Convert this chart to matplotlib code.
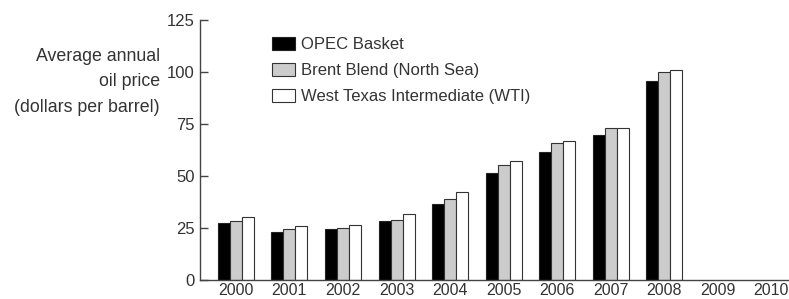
import numpy as np
import matplotlib.pyplot as plt

# Data (dollars per barrel)
years = ['2000', '2001', '2002', '2003', '2004', '2005', '2006', '2007', '2008', '2009', '2010']
opec = [27.6, 23.1, 24.4, 28.2, 36.5, 51.3, 61.7, 69.7, 95.8]
brent = [28.6, 24.4, 25.2, 29.0, 38.8, 55.3, 66.0, 72.9, 100.1]
wti = [30.4, 26.0, 26.4, 31.6, 42.2, 57.2, 67.0, 73.2, 101.0]
series_names = ['OPEC Basket', 'Brent Blend (North Sea)', 'West Texas Intermediate (WTI)']

plt.rcParams['font.family'] = ['Liberation Sans', 'DejaVu Sans']
txt = '#333333'

fig = plt.figure(figsize=(7.89, 2.99), dpi=100)
ax = fig.add_axes([0.2535, 0.0635, 0.7465, 0.8695])

w = 0.224
x = np.arange(len(opec))
ax.bar(x - w, opec, w, color='black', edgecolor='#222222', linewidth=0.8, label=series_names[0])
ax.bar(x, brent, w, color='#cccccc', edgecolor='#333333', linewidth=0.8, label=series_names[1])
ax.bar(x + w, wti, w, color='white', edgecolor='#333333', linewidth=0.8, label=series_names[2])

ax.set_xlim(-0.67, 10.33)
ax.set_ylim(0, 125)
ax.set_yticks([0, 25, 50, 75, 100, 125])
ax.set_xticks(np.arange(len(years)))
ax.set_xticklabels(years)
ax.tick_params(axis='y', direction='in', length=6, width=1, color='#444444',
               labelsize=12, labelcolor=txt, pad=4)
ax.tick_params(axis='x', length=0, labelsize=11.5, labelcolor=txt, pad=2.5)

for s in ['top', 'right']:
    ax.spines[s].set_visible(False)
for s in ['left', 'bottom']:
    ax.spines[s].set_color('#444444')
    ax.spines[s].set_linewidth(1.0)

fig.text(160 / 789, 1 - 82 / 299, 'Average annual\noil price\n(dollars per barrel)',
         ha='right', va='center', fontsize=12.8, color=txt, linespacing=1.68)

ax.legend(loc='upper left', bbox_to_anchor=(272 / 789, 1 - 37 / 299), bbox_transform=fig.transFigure,
          frameon=False, fontsize=12, borderpad=0, borderaxespad=0,
          handlelength=1.38, handleheight=0.78, labelspacing=0.66, handletextpad=0.35,
          labelcolor=txt)

fig.savefig('out.png', dpi=100)
